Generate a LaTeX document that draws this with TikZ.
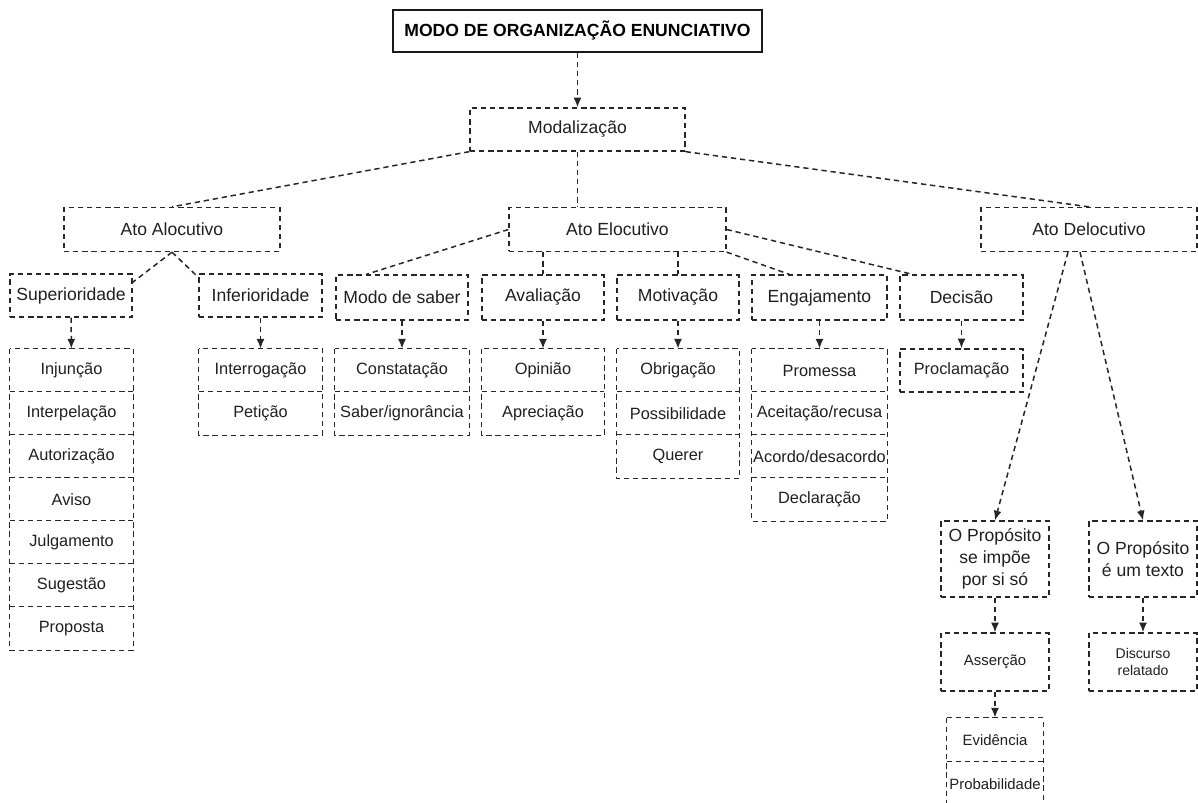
\documentclass[tikz,border=0pt]{standalone}
\usepackage{fontspec}
\setmainfont{Liberation Sans}
\usetikzlibrary{arrows.meta}

% frame and separators of a stacked list of rows named #1 1 ... #1 #2
\newcommand{\listframe}[2]{%
    \draw[link] (#11.north west) rectangle (#1#2.south east);
    \foreach \j in {2,...,#2} \draw[link] (#1\j.north west) -- (#1\j.north east);}

\begin{document}
\begin{tikzpicture}[
    x=0.02cm, y=-0.02cm,
    box/.style={draw=black!85, dash pattern=on 3pt off 2.2pt, line width=0.75pt, inner sep=0pt, text=black!88, font=\fontsize{10}{12.5}\selectfont},
    item/.style={inner sep=0pt, minimum height=0.86cm, text=black!88, font=\fontsize{9.3}{11}\selectfont},
    small/.style={box, align=center, font=\fontsize{8.5}{10.2}\selectfont},
    link/.style={draw=black!85, dash pattern=on 3pt off 2.2pt, line width=0.85pt},
    arr/.style={link, -{Latex[length=5.5pt,width=4.5pt]}},
    ]
    \useasboundingbox (0,0) rectangle (1198,803);

    %Nodes
    \node[draw=black!90, line width=0.8pt, minimum width=7.38cm, minimum height=0.84cm, font=\bfseries\fontsize{10}{12}\selectfont] at (577.5,31) (title) {MODO DE ORGANIZAÇÃO ENUNCIATIVO};
    \node[box, minimum width=4.3cm, minimum height=0.86cm] at (577.5,129.5) (mod) {Modalização};

    \node[box, minimum width=4.32cm, minimum height=0.88cm] at (172,229.5) (aloc) {Ato Alocutivo};
    \node[box, minimum width=4.34cm, minimum height=0.88cm] at (617.5,229.5) (elo) {Ato Elocutivo};
    \node[box, minimum width=4.32cm, minimum height=0.88cm] at (1089,229.5) (delo) {Ato Delocutivo};

    \node[box, minimum width=2.44cm, minimum height=0.86cm] at (71,295.5) (sup) {Superioridade};
    \node[box, minimum width=2.46cm, minimum height=0.86cm] at (260.5,295.5) (inf) {Inferioridade};
    \node[box, minimum width=2.64cm, minimum height=0.9cm] at (402,297.5) (modo) {Modo de saber};
    \node[box, minimum width=2.44cm, minimum height=0.9cm] at (543,297.5) (aval) {Avaliação};
    \node[box, minimum width=2.44cm, minimum height=0.9cm] at (678,297.5) (motiv) {Motivação};
    \node[box, minimum width=2.7cm, minimum height=0.9cm] at (819.5,297.5) (engaj) {Engajamento};
    \node[box, minimum width=2.46cm, minimum height=0.9cm] at (961.5,297.5) (decis) {Decisão};

    %Lists
    \foreach \t [count=\i] in {Injunção,Interpelação,Autorização,Aviso,Julgamento,Sugestão,Proposta}
        \node[item, minimum width=2.46cm] at (71.5,{370.5+43*(\i-1)}) (sup\i) {\t};
    \foreach \t [count=\i] in {Interrogação,Petição}
        \node[item, minimum width=2.46cm] at (260.5,{370.5+43*(\i-1)}) (inf\i) {\t};
    \foreach \t [count=\i] in {Constatação,Saber/ignorância}
        \node[item, minimum width=2.68cm] at (402,{370.5+43*(\i-1)}) (modo\i) {\t};
    \foreach \t [count=\i] in {Opinião,Apreciação}
        \node[item, minimum width=2.44cm] at (543,{370.5+43*(\i-1)}) (aval\i) {\t};
    \foreach \t [count=\i] in {Obrigação,Possibilidade,Querer}
        \node[item, minimum width=2.44cm] at (678,{370.5+43*(\i-1)}) (motiv\i) {\t};
    \foreach \t [count=\i] in {Promessa,Aceitação/recusa,Acordo/desacordo,Declaração}
        \node[item, minimum width=2.7cm] at (819.5,{370.5+43*(\i-1)}) (engaj\i) {\t};
    \node[box, minimum width=2.46cm, minimum height=0.86cm, font=\fontsize{9.3}{11}\selectfont] at (961.5,370.5) (decis1) {Proclamação};

    \listframe{sup}{7}
    \listframe{inf}{2}
    \listframe{modo}{2}
    \listframe{aval}{2}
    \listframe{motiv}{3}
    \listframe{engaj}{4}

    \node[box, align=center, minimum width=2.16cm, minimum height=1.52cm] at (995,559) (prop1) {O Propósito\\se impõe\\por si só};
    \node[box, align=center, minimum width=2.16cm, minimum height=1.52cm] at (1143,559) (prop2) {O Propósito\\é um texto};
    \node[small, minimum width=2.16cm, minimum height=1.16cm] at (995,662) (asser) {Asserção};
    \node[small, minimum width=2.16cm, minimum height=1.16cm, font=\fontsize{8}{9.6}\selectfont] at (1143,662) (disc) {Discurso\\relatado};
    \foreach \t [count=\i] in {Evidência,Probabilidade}
        \node[item, minimum width=1.92cm, minimum height=0.88cm, font=\fontsize{8.5}{10.2}\selectfont] at (995,{740+44*(\i-1)}) (evid\i) {\t};
    \listframe{evid}{2}

    %Lines
    \draw[arr] (title) -- (mod);
    \draw[link] (mod.south west) -- (aloc.north);
    \draw[link] (mod.south) -- (mod.south |- elo.north);
    \draw[link] (mod.south east) -- (delo.north);

    \draw[link] (aloc.south) -- ([yshift=-0.18cm]sup.north east);
    \draw[link] (aloc.south) -- ([yshift=-0.08cm]inf.north west);

    \draw[link] (elo.west) -- ([xshift=0.62cm]modo.north west);
    \draw[link] (aval.north |- elo.south) -- (aval.north);
    \draw[link] (motiv.north |- elo.south) -- (motiv.north);
    \draw[link] (elo.south east) -- ([xshift=0.76cm]engaj.north west);
    \draw[link] (elo.east) -- ([xshift=0.26cm]decis.north west);

    \draw[arr] ([xshift=-0.42cm]delo.south) -- (prop1.north);
    \draw[arr] ([xshift=-0.18cm]delo.south) -- (prop2.north);

    %Arrows to lists
    \draw[arr] (sup) -- (sup1);
    \draw[arr] (inf) -- (inf1);
    \draw[arr] (modo) -- (modo1);
    \draw[arr] (aval) -- (aval1);
    \draw[arr] (motiv) -- (motiv1);
    \draw[arr] (engaj) -- (engaj1);
    \draw[arr] (decis) -- (decis1);
    \draw[arr] (prop1) -- (asser);
    \draw[arr] (asser) -- (evid1);
    \draw[arr] (prop2) -- (disc);
\end{tikzpicture}
\end{document}
